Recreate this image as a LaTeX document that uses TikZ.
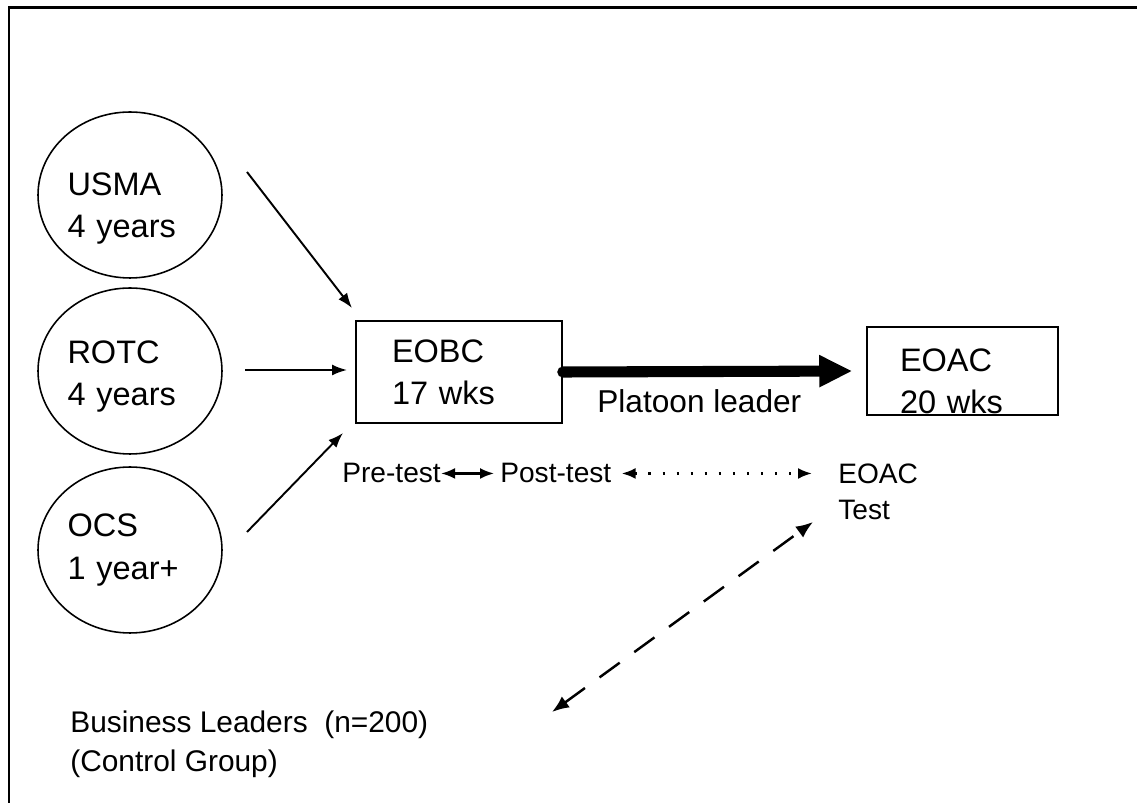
\documentclass[tikz,border=0pt]{standalone}
\usepackage{fontspec}
\setmainfont{Liberation Sans}
\usetikzlibrary{shapes.geometric,arrows.meta}

\begin{document}
\begin{tikzpicture}[x=0.02cm, y=-0.02cm, >={Latex[length=3mm,width=2.2mm]}]
    % Define the styles for each node
    \tikzstyle{school} = [ellipse, draw, line width=0.9pt, minimum width=3.68cm, minimum height=3.32cm, inner sep=0pt, text width=2.5cm, align=left, font=\fontsize{18.5}{24}\selectfont]
    \tikzstyle{course} = [rectangle, draw, line width=0.9pt, inner sep=0pt, align=left, font=\fontsize{18.5}{24}\selectfont]
    \tikzstyle{tag} = [inner sep=0pt, align=left, font=\fontsize{16}{20}\selectfont]
    \tikzstyle{feed} = [->, line width=1.1pt]
    \tikzstyle{both} = [{Latex[length=2.8mm,width=2.2mm]}-{Latex[length=2.8mm,width=2.2mm]}]

    \useasboundingbox (0,0) rectangle (1137,803);

    % Frame (only top and left edge show)
    \draw[line width=1.7pt] (9,803) -- (9,8) -- (1137,8);

    % Create the nodes for the commissioning sources
    \node [school, text height=0.99cm] (usma) at (130,195) {USMA\\4 years};
    \node [school, text height=0.67cm] (rotc) at (130,371) {ROTC\\4 years};
    \node [school] (ocs) at (130,550) {OCS\\1 year+};

    % Create the nodes for the courses
    \node [course, minimum width=4.12cm, minimum height=2.04cm, text width=2.68cm] (eobc) at (459,372) {EOBC\\17 wks};
    \node [course, minimum width=3.82cm, minimum height=1.76cm, text width=2.5cm, text height=0.88cm] (eoac) at (962.5,371) {EOAC\\20 wks};

    % Tests and control group
    \node [tag, anchor=base west] (pre) at (342,483) {Pre-test};
    \node [tag, anchor=base west] (post) at (500,483) {Post-test};
    \node [tag, anchor=north west] (eoactest) at (838,464) {EOAC\\Test};
    \node [tag, anchor=north west, font=\fontsize{17}{22}\selectfont] (business) at (70,711) {Business Leaders\ \ (n=200)\\(Control Group)};

    % Draw the arrows from the sources
    \coordinate (usmaout) at (247,172);
    \coordinate (usmain) at (352,308);
    \coordinate (rotcout) at (245,370);
    \coordinate (rotcin) at (347,370);
    \coordinate (ocsout) at (247,532);
    \coordinate (ocsin) at (343,433);
    \draw [feed] (usmaout) -- (usmain);
    \draw [feed] (rotcout) -- (rotcin);
    \draw [feed] (ocsout) -- (ocsin);

    % Platoon leader step
    \draw [line width=6.3pt, line cap=round, -{Triangle[length=0.66cm,width=0.6cm]}, shorten >=0.28cm] (eobc.east) -- (eoac.west);
    \node [anchor=base west, inner sep=0pt, font=\fontsize{18}{22}\selectfont] (platoon) at (597,413) {Platoon leader};

    % Links between the tests
    \draw [both, line width=1.2pt, shorten >=0.12cm] (pre.east) -- (post.west);
    \draw [both, line width=1.4pt, dash pattern=on 1.4pt off 6.6pt, shorten <=0.2cm, shorten >=0.52cm] (post.east) -- (post.east -| eoactest.west);
    \coordinate (lowtip) at (552,712);
    \coordinate (hightip) at (813,522);
    \draw [{Latex[length=3.4mm,width=2.7mm]}-{Latex[length=3.4mm,width=2.7mm]}, line width=1.4pt, dash pattern=on 0.5cm off 0.36cm] (lowtip) -- (hightip);
\end{tikzpicture}
\end{document}
